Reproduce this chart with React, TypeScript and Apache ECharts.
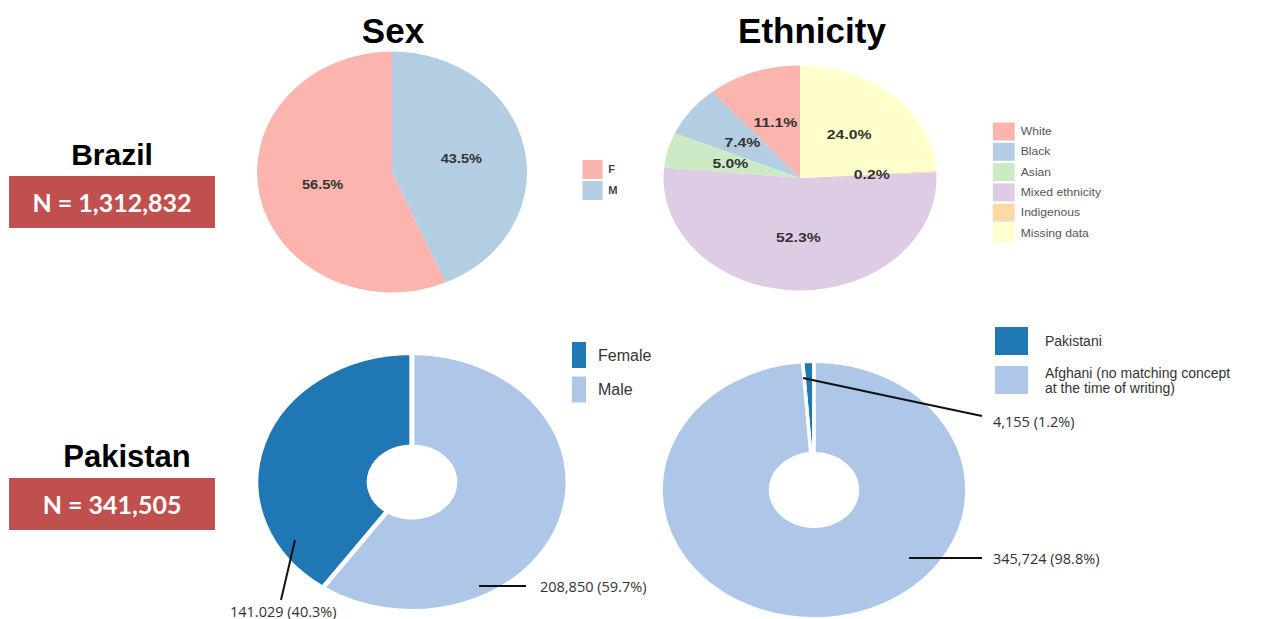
import React, { useEffect, useRef } from 'react';
import * as echarts from 'echarts';

// ---------- data ----------
const columnTitles = ['Sex', 'Ethnicity'];
const countries = ['Brazil', 'Pakistan'];
const countryN = ['N = 1,312,832', 'N = 341,505'];

const sexCategories = ['Female', 'Male'];
const brazilSexPercent = [56.5, 43.5];

const ethnicityCategories = ['White', 'Black', 'Asian', 'Mixed ethnicity', 'Indigenous', 'Missing data'];
const brazilEthnicityPercent = [11.1, 7.4, 5.0, 52.3, 0.2, 24.0];

const pakSexCategories = ['Female', 'Male'];
const pakSexCounts = [141029, 208850];
const pakSexLabels = ['141.029 (40.3%)', '208,850 (59.7%)'];

const pakEthCategories = ['Pakistani', 'Afghani (no matching concept\nat the time of writing)'];
const pakEthCounts = [4155, 345724];
const pakEthLabels = ['4,155 (1.2%)', '345,724 (98.8%)'];

// ---------- styles ----------
const PASTEL = ['#fbb4ae', '#b3cde3', '#ccebc5', '#decbe4', '#fed9a6', '#ffffcc'];
const PAK_COLORS = ['#1f77b4', '#aec7e8'];
const FONT = 'Liberation Sans, Arial, sans-serif';
const BOX = '#c0504d';

// label placement (layout only)
const PAK_SEX_LABEL_LAYOUT = [
  { x: 230, y: 611, line: [[295, 540], [288, 570], [281, 600]] },
  { x: 540, y: 586, line: [[479, 586], [502, 586], [526, 586]] },
];
const PAK_ETH_LABEL_LAYOUT = [
  { x: 993, y: 421, line: [[803, 378], [892, 397], [982, 416]] },
  { x: 993, y: 558, line: [[909, 558], [945, 558], [982, 558]] },
];

function EChart({ option, style }: { option: any; style: any }) {
  const ref = useRef<HTMLDivElement>(null);
  useEffect(() => {
    const chart = echarts.init(ref.current!, null, { renderer: 'svg' });
    chart.setOption(option);
    return () => chart.dispose();
  }, []);
  return <div ref={ref} style={style} />;
}

function scaledStyle(cx: number, cy: number, cxL: number, cyL: number, w: number, h: number, sx: number) {
  return {
    position: 'absolute',
    left: cx - cxL,
    top: cy - cyL,
    width: w,
    height: h,
    overflow: 'hidden',
    transform: `scaleX(${sx})`,
    transformOrigin: `${cxL}px ${cyL}px`,
  };
}

const insideLabel = {
  show: true,
  position: 'inside',
  formatter: (p: any) => p.value.toFixed(1) + '%',
  fontFamily: FONT,
  fontSize: 13,
  fontWeight: 'bold',
  color: '#333',
};

const brazilSexOption = {
  animation: false,
  legend: {
    orient: 'vertical',
    left: 310,
    top: 118,
    padding: 0,
    itemWidth: 18,
    itemHeight: 19,
    itemGap: 2,
    icon: 'rect',
    selectedMode: false,
    data: sexCategories,
    formatter: (name: string) => name.charAt(0),
    textStyle: { fontFamily: FONT, fontSize: 10, fontWeight: 'bold', color: '#444' },
  },
  series: [
    {
      type: 'pie',
      center: [140, 130],
      radius: 120.5,
      startAngle: 90,
      clockwise: false,
      silent: true,
      label: insideLabel,
      labelLine: { show: false },
      data: sexCategories.map((n, i) => ({ name: n, value: brazilSexPercent[i], itemStyle: { color: PASTEL[i] } })),
    },
  ],
};

const brazilEthOption = {
  animation: false,
  legend: {
    orient: 'vertical',
    left: 284,
    top: 64.5,
    padding: 0,
    itemWidth: 18,
    itemHeight: 18,
    itemGap: 2.3,
    icon: 'rect',
    selectedMode: false,
    data: ethnicityCategories,
    textStyle: { fontFamily: FONT, fontSize: 10, color: '#555' },
  },
  series: [
    {
      type: 'pie',
      center: [125, 120],
      radius: 112.5,
      startAngle: 90,
      clockwise: false,
      silent: true,
      label: insideLabel,
      labelLine: { show: false },
      data: ethnicityCategories.map((n, i) => ({
        name: n,
        value: brazilEthnicityPercent[i],
        itemStyle: { color: PASTEL[i] },
      })),
    },
  ],
};

function ringOption(names: string[], values: number[], r0: number, r: number, bw: number) {
  return {
    animation: false,
    series: [
      {
        type: 'pie',
        center: [150, 140],
        radius: [r0, r],
        startAngle: 90,
        clockwise: false,
        silent: true,
        label: { show: false },
        labelLine: { show: false },
        itemStyle: { borderColor: '#fff', borderWidth: bw },
        data: names.map((n, i) => ({ name: n, value: values[i], itemStyle: { color: PAK_COLORS[i] } })),
      },
    ],
  };
}

function overlayPie(names: string[], values: number[], labels: string[], layout: any[], center: number[]) {
  return {
    type: 'pie',
    center,
    radius: [40, 120],
    startAngle: 90,
    clockwise: false,
    silent: true,
    z: 5,
    itemStyle: { color: 'rgba(0,0,0,0)', borderWidth: 0 },
    label: {
      show: true,
      position: 'outside',
      formatter: (p: any) => labels[p.dataIndex],
      fontFamily: 'Open Sans, sans-serif',
      fontSize: 14.5,
      color: '#333',
    },
    labelLine: { show: true, lineStyle: { color: '#111', width: 2 } },
    labelLayout: (p: any) => {
      const l = layout[p.dataIndex];
      return { x: l.x, y: l.y, align: 'left', verticalAlign: 'middle', labelLinePoints: l.line };
    },
    data: names.map((n, i) => ({ name: n, value: values[i] })),
  };
}

const overlayOption = {
  animation: false,
  legend: [
    {
      orient: 'vertical',
      left: 572,
      top: 342,
      padding: 0,
      itemWidth: 14,
      itemHeight: 26,
      itemGap: 8.5,
      icon: 'rect',
      selectedMode: false,
      data: pakSexCategories.map((n, i) => ({ name: n, itemStyle: { color: PAK_COLORS[i] } })),
      textStyle: { fontFamily: FONT, fontSize: 16, color: '#333', padding: [0, 0, 0, 7] },
    },
    {
      orient: 'vertical',
      left: 995,
      top: 327,
      padding: 0,
      itemWidth: 33,
      itemHeight: 28,
      itemGap: 10,
      icon: 'rect',
      selectedMode: false,
      data: pakEthCategories.map((n, i) => ({ name: n, itemStyle: { color: PAK_COLORS[i] } })),
      textStyle: { fontFamily: FONT, fontSize: 14, lineHeight: 15, color: '#333', padding: [0, 0, 0, 12] },
    },
  ],
  graphic: [
    { type: 'text', x: 393, y: 30, style: { text: columnTitles[0], font: `bold 35px ${FONT}`, fill: '#000', textAlign: 'center', textVerticalAlign: 'middle' } },
    { type: 'text', x: 812, y: 30, style: { text: columnTitles[1], font: `bold 35px ${FONT}`, fill: '#000', textAlign: 'center', textVerticalAlign: 'middle' } },
    { type: 'text', x: 112, y: 154, style: { text: countries[0], font: `bold 30px ${FONT}`, fill: '#000', textAlign: 'center', textVerticalAlign: 'middle' } },
    { type: 'rect', shape: { x: 9, y: 176, width: 206, height: 52 }, style: { fill: BOX } },
    { type: 'text', x: 112, y: 202, style: { text: countryN[0], font: 'bold 25px Lato, sans-serif', fill: '#fff', textAlign: 'center', textVerticalAlign: 'middle' } },
    { type: 'text', x: 127, y: 456, style: { text: countries[1], font: `bold 31px ${FONT}`, fill: '#000', textAlign: 'center', textVerticalAlign: 'middle' } },
    { type: 'rect', shape: { x: 9, y: 478, width: 206, height: 52 }, style: { fill: BOX } },
    { type: 'text', x: 112, y: 504, style: { text: countryN[1], font: 'bold 25px Lato, sans-serif', fill: '#fff', textAlign: 'center', textVerticalAlign: 'middle' } },
  ],
  series: [
    overlayPie(pakSexCategories, pakSexCounts, pakSexLabels, PAK_SEX_LABEL_LAYOUT, [411.5, 482]),
    overlayPie(pakEthCategories, pakEthCounts, pakEthLabels, PAK_ETH_LABEL_LAYOUT, [814, 489.5]),
  ],
};

export default function App() {
  return (
    <div style={{ position: 'fixed', left: 0, top: 0, width: 1264, height: 619, background: '#fff', overflow: 'hidden' }}>
      <EChart option={brazilSexOption} style={scaledStyle(392, 172, 140, 130, 341, 260, 1.12)} />
      <EChart option={brazilEthOption} style={scaledStyle(800, 178, 125, 120, 390, 240, 1.213)} />
      <EChart option={ringOption(pakSexCategories, pakSexCounts, 35.5, 129, 4)} style={scaledStyle(411.5, 482, 150, 140, 300, 280, 1.209)} />
      <EChart option={ringOption(pakEthCategories, pakEthCounts, 36.5, 128.5, 3)} style={scaledStyle(814, 489.5, 150, 140, 300, 280, 1.19)} />
      <EChart option={overlayOption} style={{ position: 'absolute', left: 0, top: 0, width: 1264, height: 619 }} />
    </div>
  );
}
